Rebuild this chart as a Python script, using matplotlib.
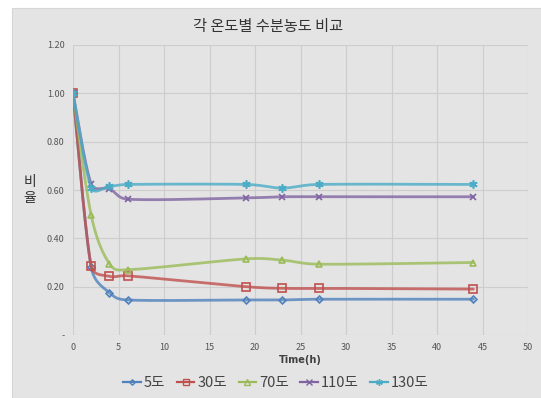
import numpy as np
import matplotlib.pyplot as plt
from matplotlib.patches import Rectangle

plt.rcParams['font.family'] = ['Noto Sans CJK KR', 'DejaVu Sans']

hours = [0, 2, 4, 6, 19, 23, 27, 44]
t5 = [1.00, 0.28, 0.175, 0.145, 0.145, 0.145, 0.148, 0.148]
t30 = [1.00, 0.285, 0.243, 0.245, 0.200, 0.193, 0.193, 0.190]
t70 = [1.00, 0.495, 0.295, 0.270, 0.315, 0.310, 0.293, 0.300]
t110 = [1.00, 0.625, 0.605, 0.562, 0.567, 0.572, 0.572, 0.572]
t130 = [1.00, 0.610, 0.615, 0.623, 0.623, 0.608, 0.623, 0.623]

names = ['5도', '30도', '70도', '110도', '130도']
colors = ['#4f81bd', '#c0504d', '#9bbb59', '#8064a2', '#4bacc6']
markers = ['D', 's', '^', 'x', (6, 2, 0)]
msizes = [3.5, 5.5, 5, 5, 6]
yticks = [0, 0.2, 0.4, 0.6, 0.8, 1.0, 1.2]
xticks = list(range(0, 55, 5))


def smooth(x, y, xr=50.0, yr=1.2, w=455.0, h=290.0, n=30):
    # smoothed line: cubic bezier with catmull-rom tangents, worked out in
    # screen proportions and with control arms clamped to avoid overshoot
    sx = w / xr
    sy = h / yr
    pts = np.column_stack([np.asarray(x, float) * sx, np.asarray(y, float) * sy])
    out = [pts[0]]
    for i in range(len(pts) - 1):
        p0 = pts[i - 1] if i > 0 else pts[i]
        p1 = pts[i]
        p2 = pts[i + 1]
        p3 = pts[i + 2] if i + 2 < len(pts) else pts[i + 1]
        seglen = np.hypot(*(p2 - p1))
        d1 = (p2 - p0) / 6.0
        d2 = (p3 - p1) / 6.0
        for d in (d1, d2):
            L = np.hypot(*d)
            if L > seglen * 0.5:
                d *= seglen * 0.5 / L
        c1 = p1 + d1
        c2 = p2 - d2
        s = np.linspace(0, 1, n)[1:, None]
        seg = ((1 - s) ** 3) * p1 + 3 * ((1 - s) ** 2) * s * c1 + 3 * (1 - s) * s ** 2 * c2 + s ** 3 * p2
        out.extend(seg)
    out = np.array(out)
    return out[:, 0] / sx, out[:, 1] / sy


fig = plt.figure(figsize=(5.41, 3.98), dpi=100)
fig.patch.set_facecolor('white')
fig.patches.append(Rectangle((12 / 541, 0), 1, 1 - 8 / 398, transform=fig.transFigure,
                             facecolor='#e4e4e4', edgecolor='#d6d6d6', lw=0.8, zorder=-5))

ax = fig.add_axes([73 / 541, 1 - 335 / 398, 455 / 541, 290 / 398])
ax.set_facecolor('#e4e4e4')

series = [t5, t30, t70, t110, t130]
for vals, name, c, m, ms in zip(series, names, colors, markers, msizes):
    sx, sy = smooth(hours, vals)
    ax.plot(sx, sy, color=c, lw=2.0, alpha=0.8, solid_capstyle='round')
    ax.plot(hours, vals, ls='none', marker=m, ms=ms, mfc='none' if m in ('D', 's', '^') else c,
            mec=c, mew=1.2)
    ax.plot([], [], color=c, lw=1.6, marker=m, ms=ms * 0.8,
            mfc='none' if m in ('D', 's', '^') else c, mec=c, mew=1.0, label=name)

ax.set_xlim(0, 50)
ax.set_ylim(0, 1.2)
ax.set_xticks(xticks)
ax.set_yticks(yticks)
ax.set_yticklabels(['-' if v == 0 else '%.2f' % v for v in yticks])
ax.grid(True, color='#cdcdcd', lw=0.8)
ax.set_axisbelow(True)
for sp in ax.spines.values():
    sp.set_visible(False)
ax.tick_params(length=0, labelsize=6.5, colors='#555555', pad=6)

ax.set_xlabel('Time(h)', fontsize=7, fontweight='bold', color='#404040', labelpad=2,
              family='DejaVu Sans')
ax.set_ylabel('비\n율', rotation=0, fontsize=10, color='#333333', labelpad=12, va='center',
              linespacing=1.25)
fig.text(268 / 541, 1 - 27 / 398, '각 온도별 수분농도 비교', ha='center', va='center',
         fontsize=11, color='#333333')

leg = fig.legend(loc='center', bbox_to_anchor=(276 / 541, 1 - 383 / 398), ncol=5,
                 frameon=False, fontsize=10.5, handlelength=1.2, handletextpad=0.2,
                 columnspacing=0.8, labelcolor='#444444')

fig.savefig('out.png', dpi=100, facecolor=fig.get_facecolor())
